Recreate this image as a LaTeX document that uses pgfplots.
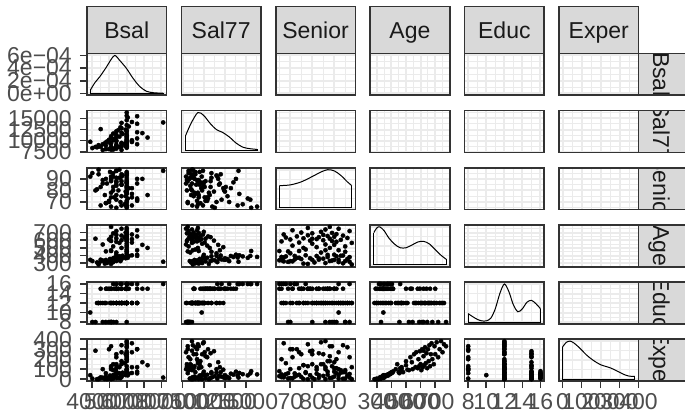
\documentclass[border=0pt]{standalone}
\usepackage{fontspec}
\setmainfont{Liberation Sans}
\usepackage{pgfplots}
\usepackage{pgfplotstable}
\pgfplotsset{compat=1.18}
\definecolor{g92}{HTML}{EBEBEB}
\definecolor{g20}{HTML}{333333}
\definecolor{g30}{HTML}{4D4D4D}
\definecolor{g85}{HTML}{D9D9D9}
\definecolor{g10}{HTML}{1A1A1A}
\newcommand\bigf{\fontsize{23pt}{23pt}\selectfont}

\pgfplotstableread{
Bsal Sal77 Senior Age Educ Exper
4020 8340 95 329 8 6
4290 8500 81 311 12 0
4380 8700 98 284 12 0
4380 9000 94 300 12 4
4500 8640 67 325 12 18
4620 9200 89 336 12 15
4740 9400 76 296 12 2
4800 9600 69 318 15 8
4800 8900 90 344 12 26
4860 9800 86 303 15 0
4980 10200 71 325 15 9
5040 9500 96 357 12 36
5100 10600 78 292 15 0
5100 11000 66 340 15 20
5220 10100 83 365 12 41
5220 11600 92 315 16 6
5280 10400 74 372 15 44
5400 10800 88 330 15 12
5400 12100 72 350 16 25
5400 9900 97 381 12 52
5400 11300 65 339 15 30
5520 12400 80 345 15 14
5580 10900 91 392 12 60
5640 13000 70 328 16 10
5700 11800 85 360 15 33
5700 12800 75 355 15 22
5700 14000 67 376 16 35
5760 11500 93 398 12 65
5940 12500 79 366 15 40
6000 13500 87 382 15 45
6000 14600 68 390 16 50
6000 12000 94 401 15 70
6060 15200 73 371 16 38
6120 13200 82 395 15 55
6300 14200 77 404 16 62
6000 16300 66 383 16 48
6600 13800 90 412 15 75
6600 15500 72 396 16 58
8100 14100 97 320 16 16
4500 12600 83 347 15 12
5400 8400 84 440 12 150
4800 8100 69 455 8 60
5100 8700 92 470 12 100
6000 9000 77 480 12 70
5700 9300 88 500 12 180
5220 8200 95 520 8 90
6000 10400 71 530 15 220
4620 7900 86 545 8 100
6000 9800 80 555 12 250
5580 8600 98 565 12 120
6300 10100 74 570 12 270
5400 8800 91 580 15 110
6000 9200 66 585 12 200
5100 8000 89 590 8 130
6000 11200 79 595 15 280
5700 9500 85 600 12 150
6000 8600 93 605 12 90
4980 8100 70 610 8 300
6300 9700 82 615 12 120
6000 10200 88 620 15 230
5400 8500 76 625 12 140
6000 9000 96 630 12 320
5880 9300 68 635 12 160
6000 10800 83 640 15 260
5100 8300 90 645 8 110
6600 10500 73 650 12 300
6000 9600 87 655 12 180
5700 8700 94 660 12 340
6000 8900 78 665 15 130
5400 9100 85 670 12 250
6300 9900 67 675 12 360
6000 8400 91 680 8 200
5220 8000 80 690 12 150
6000 9400 89 695 12 330
5940 8800 75 700 15 250
6000 10000 84 710 12 370
5400 8200 97 720 8 220
6600 9200 71 730 12 300
6000 8600 86 740 12 381
5700 7900 92 750 12 270
6000 9300 78 760 12 350
5100 8100 88 774 8 330
6000 15600 65 460 16 80
6000 12300 82 510 12 95
6900 11700 90 540 15 170
7200 10700 76 500 15 140
6600 11900 86 470 12 120
4200 8600 80 620 8 285
3900 9750 92 345 10 40
6000 10900 95 450 12 70
6000 11500 70 430 12 100
5400 10000 87 410 15 75
5100 9400 74 460 12 110
}\harris

\pgfplotsset{
 panel/.style={scale only axis, width=79.5pt, height=41.8pt, anchor=south west,
  axis line style={draw=g20, line width=1.6pt},
  grid=both,
  major grid style={draw=g92, line width=2pt},
  minor grid style={draw=g92, line width=1pt},
  tick align=outside, major tick length=7pt, minor tick length=0pt,
  xtick style={draw=none}, ytick style={draw=none},
  xticklabels={}, yticklabels={},
  scaled ticks=false,
  tick label style={font=\bigf, text=g30, inner sep=0pt},
  xticklabel shift=5pt, yticklabel shift=8pt,
  xtick pos=bottom, ytick pos=left},
 xBsal/.style={xmin=3713,xmax=8290,xtick={4000,5000,6000,7000,8000},minor xtick={4500,5500,6500,7500}},
 xSal77/.style={xmin=7350,xmax=16750,xtick={7500,10000,12500,15000},minor xtick={8750,11250,13750,16250}},
 xSenior/.style={xmin=63.4,xmax=99.6,xtick={70,80,90},minor xtick={65,75,85,95}},
 xAge/.style={xmin=255,xmax=799,xtick={300,400,500,600,700},minor xtick={350,450,550,650,750}},
 xEduc/.style={xmin=7.6,xmax=16.4,xtick={8,10,12,14,16},minor xtick={9,11,13,15}},
 xExper/.style={xmin=-19,xmax=400,xtick={0,100,200,300,400},minor xtick={50,150,250,350}},
 yD/.style={ymin=-0.3,ymax=6.3,ytick={0,2,4,6},minor ytick={1,3,5}},
 yRel/.style={ymin=-0.05,ymax=1.05,ytick={0,0.5,1},minor ytick={0.25,0.75}},
 ySal77/.style={ymin=7350,ymax=16750,ytick={7500,10000,12500,15000},minor ytick={8750,11250,13750,16250}},
 ySenior/.style={ymin=63.4,ymax=99.6,ytick={70,80,90},minor ytick={65,75,85,95}},
 yAge/.style={ymin=255,ymax=799,ytick={300,400,500,600,700},minor ytick={350,450,550,650,750}},
 yEduc/.style={ymin=7.6,ymax=16.4,ytick={8,10,12,14,16},minor ytick={9,11,13,15}},
 yExper/.style={ymin=-19,ymax=400,ytick={0,100,200,300,400},minor ytick={50,150,250,350}},
 xlBsal/.style={xticklabels={4000,5000,6000,7000,8000}},
 xlSal77/.style={xticklabels={7500,10000,12500,15000}},
 xlSenior/.style={xticklabels={70,80,90}},
 xlAge/.style={xticklabels={300,400,500,600,700}},
 xlEduc/.style={xticklabels={8,10,12,14,16}},
 xlExper/.style={xticklabels={0,100,200,300,400}},
 ylD/.style={yticklabels={0e+00,2e−04,4e−04,6e−04}},
 ylSal77/.style={yticklabels={7500,10000,12500,15000}},
 ylSenior/.style={yticklabels={70,80,90}},
 ylAge/.style={yticklabels={300,400,500,600,700}},
 ylEduc/.style={yticklabels={8,10,12,14,16}},
 ylExper/.style={yticklabels={0,100,200,300,400}},
 bottom/.style={xtick style={draw=g20,line width=1.6pt}},
 left/.style={ytick style={draw=g20,line width=1.6pt}},
 pts/.style={only marks, mark=*, mark size=2.1pt, mark options={draw=black, fill=black}},
 dens/.style={black, line width=1pt, smooth, no marks},
 dbase/.style={black, line width=1pt, sharp plot, no marks},
}

\newcommand\scat[5]{\begin{axis}[panel, at={(#1pt,#2pt)}, x#3, y#4, #5]
\addplot[pts] table[x=#3,y=#4]{\harris};
\end{axis}}
\newcommand\blank[4]{\begin{axis}[panel, at={(#1pt,#2pt)}, x#3, y#4]
\end{axis}}
\newcommand\diag[5]{\begin{axis}[panel, at={(#1pt,#2pt)}, x#3, #4]
#5
\end{axis}}

\begin{document}
\begin{tikzpicture}
\path[use as bounding box, clip] (0,0) rectangle (685pt,413pt);
% ---------- row 1 : Bsal
\diag{87}{317.7}{Bsal}{yD, left, ylD}{
\addplot[dens] coordinates {(3900,0.5) (4170,1.7) (4457,2.66) (4840,4.2) (5086,5.3) (5315,6.0) (5600,5.2) (5984,3.95) (6360,2.4) (6745,1.1) (7128,0.35) (7490,0.12) (7780,0.06) (8100,0.05)};
\addplot[dbase] coordinates {(3900,0.5) (3900,0) (8100,0) (8100,0.05)};}
\blank{181.4}{317.7}{Sal77}{D}
\blank{275.8}{317.7}{Senior}{D}
\blank{370.2}{317.7}{Age}{D}
\blank{464.6}{317.7}{Educ}{D}
\blank{559}{317.7}{Exper}{D}
% ---------- row 2 : Sal77
\scat{87}{260.55}{Bsal}{Sal77}{left, ylSal77}
\diag{181.4}{260.55}{Sal77}{yRel}{
\addplot[dens] coordinates {(7860,0.40) (8500,0.72) (9300,1.0) (10000,0.92) (10800,0.70) (11500,0.55) (12200,0.48) (13000,0.36) (13800,0.20) (14600,0.09) (15400,0.05) (16300,0.03)};
\addplot[dbase] coordinates {(7860,0.40) (7860,0) (16300,0) (16300,0.03)};}
\blank{275.8}{260.55}{Senior}{Sal77}
\blank{370.2}{260.55}{Age}{Sal77}
\blank{464.6}{260.55}{Educ}{Sal77}
\blank{559}{260.55}{Exper}{Sal77}
% ---------- row 3 : Senior
\scat{87}{203.4}{Bsal}{Senior}{left, ylSenior}
\scat{181.4}{203.4}{Sal77}{Senior}{}
\diag{275.8}{203.4}{Senior}{yRel}{
\addplot[dens] coordinates {(65,0.58) (70,0.6) (75,0.68) (80,0.82) (84,0.94) (87,1.0) (90,0.97) (93,0.85) (96,0.68) (98,0.58)};
\addplot[dbase] coordinates {(65,0.58) (65,0) (98,0) (98,0.58)};}
\blank{370.2}{203.4}{Age}{Senior}
\blank{464.6}{203.4}{Educ}{Senior}
\blank{559}{203.4}{Exper}{Senior}
% ---------- row 4 : Age
\scat{87}{146.25}{Bsal}{Age}{left, ylAge}
\scat{181.4}{146.25}{Sal77}{Age}{}
\scat{275.8}{146.25}{Senior}{Age}{}
\diag{370.2}{146.25}{Age}{yRel}{
\addplot[dens] coordinates {(280,0.85) (300,0.97) (320,1.0) (350,0.9) (380,0.72) (420,0.55) (460,0.45) (500,0.45) (540,0.52) (580,0.6) (620,0.62) (660,0.55) (700,0.4) (740,0.25) (774,0.15)};
\addplot[dbase] coordinates {(280,0.85) (280,0) (774,0) (774,0.15)};}
\blank{464.6}{146.25}{Educ}{Age}
\blank{559}{146.25}{Exper}{Age}
% ---------- row 5 : Educ
\scat{87}{89.1}{Bsal}{Educ}{left, ylEduc}
\scat{181.4}{89.1}{Sal77}{Educ}{}
\scat{275.8}{89.1}{Senior}{Educ}{}
\scat{370.2}{89.1}{Age}{Educ}{}
\diag{464.6}{89.1}{Educ}{yRel}{
\addplot[dens] coordinates {(8,0.22) (8.5,0.14) (9,0.07) (9.5,0.03) (10,0.03) (10.5,0.1) (11,0.35) (11.5,0.75) (12,1.0) (12.5,0.8) (13,0.45) (13.5,0.27) (14,0.35) (14.5,0.52) (15,0.57) (15.5,0.48) (16,0.35)};
\addplot[dbase] coordinates {(8,0.22) (8,0) (16,0) (16,0.35)};}
\blank{559}{89.1}{Exper}{Educ}
% ---------- row 6 : Exper
\scat{87}{31.95}{Bsal}{Exper}{left, ylExper, bottom, xlBsal}
\scat{181.4}{31.95}{Sal77}{Exper}{bottom, xlSal77}
\scat{275.8}{31.95}{Senior}{Exper}{bottom, xlSenior}
\scat{370.2}{31.95}{Age}{Exper}{bottom, xlAge}
\scat{464.6}{31.95}{Educ}{Exper}{bottom, xlEduc}
\diag{559}{31.95}{Exper}{yRel, bottom, xlExper}{
\addplot[dens] coordinates {(0,0.85) (20,0.97) (40,1.0) (60,0.95) (90,0.82) (125,0.64) (160,0.5) (200,0.38) (250,0.3) (285,0.22) (320,0.13) (350,0.08) (381,0.07)};
\addplot[dbase] coordinates {(0,0.85) (0,0) (381,0) (381,0.07)};}
% ---------- top strips
\foreach \x/\n in {87/Bsal,181.4/Sal77,275.8/Senior,370.2/Age,464.6/Educ,559/Exper}{
 \filldraw[fill=g85, draw=g20, line width=1.6pt] (\x pt,359.5pt) rectangle ++(79.5pt,46.8pt);
 \path (\x pt,374.7pt) ++(39.75pt,0) node[anchor=base, font=\bigf, text=g10, inner sep=0pt] {\n};
}
% ---------- right strips
\foreach \y/\n in {317.7/Bsal,260.55/Sal77,203.4/Senior,146.25/Age,89.1/Educ,31.95/Exper}{
 \begin{scope}
 \clip (638.5pt,\y pt) rectangle ++(60pt,41.8pt);
 \fill[g85] (638.5pt,\y pt) rectangle ++(60pt,41.8pt);
 \path (653pt,\y pt) ++(0,20.9pt) node[rotate=-90, anchor=base, font=\bigf, text=g10, inner sep=0pt] {\n};
 \end{scope}
 \draw[g20, line width=1.6pt] (638.5pt,\y pt) rectangle ++(60pt,41.8pt);
}
\end{tikzpicture}
\end{document}
